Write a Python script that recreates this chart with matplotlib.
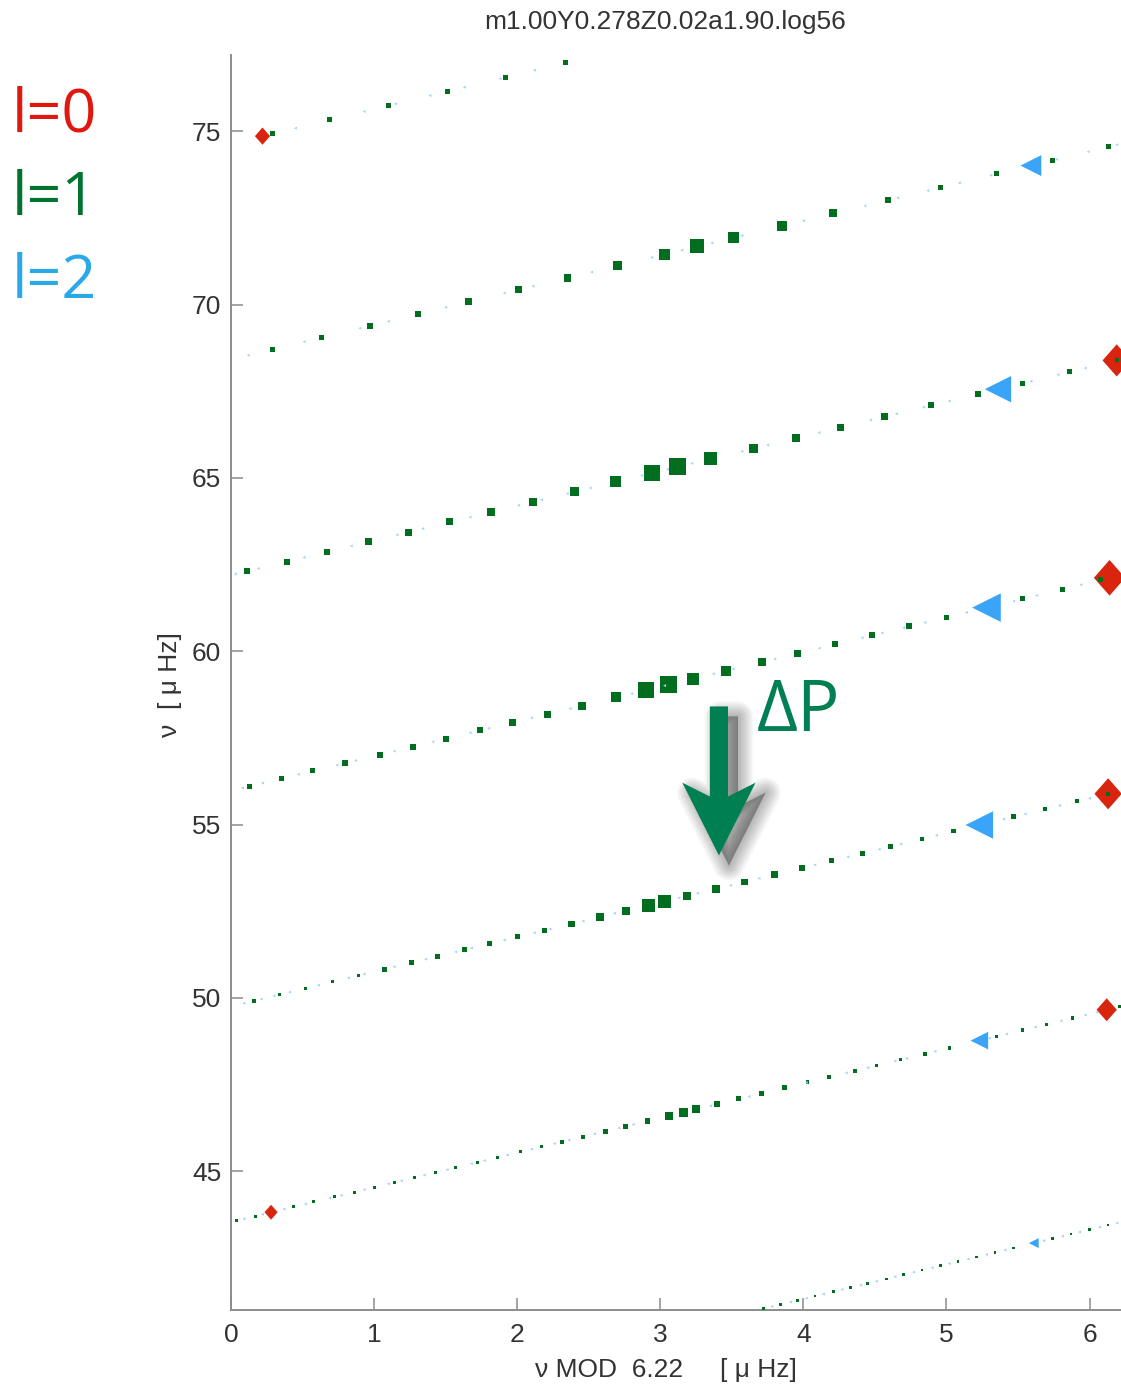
"""
Echelle diagram of a red-giant model: radial, dipole and quadrupole modes
folded with the large separation, showing the dipole mixed-mode ridges.
"""

import numpy as np
import matplotlib.pyplot as plt
from matplotlib.patches import FancyArrow
from matplotlib.transforms import ScaledTranslation

DNU = 6.22  # large separation used for folding [uHz]
MODEL = "m1.00Y0.278Z0.02a1.90.log56"

# ---------------------- MODE FREQUENCIES ----------------------
# radial modes (l=0), frequency [uHz] and relative visibility
l0_freq = [43.82, 49.66, 55.89, 62.12, 68.39, 74.86]
l0_vis = [1.3, 2.0, 2.7, 3.1, 2.8, 1.5]

# dipole mixed modes (l=1), one row per acoustic order
l1_freq = [
    41.04, 41.16, 41.28, 41.40, 41.53, 41.65, 41.77, 41.90, 42.02, 42.15,
    42.28, 42.40, 42.53, 42.66, 42.79, 43.06, 43.19, 43.32, 43.45,
    43.58, 43.71, 43.98, 44.12, 44.26, 44.40, 44.54, 44.68, 44.82, 44.97,
    45.11, 45.26, 45.40, 45.56, 45.71, 45.85, 46.00, 46.16, 46.30, 46.45,
    46.60, 46.70, 46.79, 46.94, 47.09, 47.25, 47.41, 47.57, 47.72, 47.90,
    48.05, 48.22, 48.39, 48.56, 48.89, 49.07, 49.24, 49.42, 49.75,
    49.92, 50.10, 50.28, 50.47, 50.65, 50.83, 51.02, 51.20, 51.39, 51.57,
    51.76, 51.95, 52.14, 52.34, 52.52, 52.68, 52.79, 52.95, 53.15, 53.35,
    53.56, 53.75, 53.96, 54.17, 54.37, 54.59, 54.81, 55.23, 55.45, 55.67,
    55.89,
    56.11, 56.33, 56.55, 56.78, 57.02, 57.25, 57.48, 57.72, 57.95, 58.19,
    58.43, 58.67, 58.88, 59.04, 59.21, 59.44, 59.69, 59.94, 60.20, 60.46,
    60.72, 60.98, 61.51, 61.79, 62.06,
    62.31, 62.59, 62.87, 63.16, 63.44, 63.73, 64.02, 64.31, 64.60, 64.89,
    65.14, 65.32, 65.55, 65.85, 66.15, 66.46, 66.77, 67.09, 67.42, 67.73,
    68.06, 68.39,
    68.71, 69.05, 69.39, 69.73, 70.08, 70.43, 70.77, 71.12, 71.45, 71.68,
    71.93, 72.27, 72.63, 73.01, 73.38, 73.77, 74.16, 74.55,
    74.93, 75.33, 75.74, 76.15, 76.56, 76.98,
]
l1_vis = [
    .25, .25, .25, .25, .25, .25, .25, .25, .25, .25,
    .25, .25, .25, .25, .25, .25, .25, .25, .25,
    .25, .3, .3, .3, .3, .3, .3, .3, .3, .3,
    .3, .3, .3, .3, .35, .4, .4, .5, .5, .55,
    .8, .9, .8, .6, .5, .5, .5, .35, .35, .35,
    .35, .35, .35, .35, .35, .35, .35, .35, .35,
    .35, .35, .35, .35, .35, .5, .5, .5, .5, .5,
    .5, .5, .65, .8, .8, 1.3, 1.3, .8, .8, .65,
    .65, .65, .5, .5, .5, .45, .45, .45, .4, .4,
    .4,
    .5, .5, .5, .6, .6, .6, .6, .6, .7, .7,
    .8, 1.0, 1.6, 1.7, 1.2, 1.0, .8, .7, .6, .6,
    .6, .5, .5, .5, .5,
    .6, .6, .6, .7, .7, .7, .8, .8, .9, 1.1,
    1.6, 1.7, 1.3, .9, .8, .7, .7, .6, .6, .5,
    .5, .4,
    .5, .5, .6, .6, .7, .7, .75, .9, 1.1, 1.4,
    1.1, 1.0, .8, .6, .5, .5, .5, .5,
    .5, .5, .5, .5, .5, .5,
]

# quadrupole modes (l=2): the strong p-like modes ...
l2_peak_freq = [42.93, 48.77, 54.99, 61.26, 67.56, 74.01]
l2_peak_vis = [0.9, 1.6, 2.5, 2.6, 2.4, 1.9]

# ... and the faint g-like quadrupole mixed modes
l2_freq = [
    41.10, 41.23, 41.34, 41.46, 41.59, 41.72, 41.83, 41.96, 42.09, 42.22,
    42.34, 42.47, 42.60, 42.73, 43.00, 43.13, 43.25, 43.39, 43.51,
    43.63, 43.76, 43.91, 44.06, 44.23, 44.31, 44.47, 44.64, 44.73, 44.89,
    45.05, 45.22, 45.31, 45.47, 45.64, 45.80, 45.90, 46.08, 46.25, 46.35,
    46.89, 47.16, 47.56, 47.84, 47.99, 48.18, 48.26, 48.46, 48.84, 48.96,
    49.16, 49.34, 49.51, 49.59,
    49.85, 49.97, 50.06, 50.17, 50.37, 50.58, 50.69, 50.90, 51.12, 51.33,
    51.44, 51.67, 51.88, 51.99, 52.22, 52.44, 52.89, 53.02, 53.25, 53.45,
    53.84, 54.07, 54.29, 54.44, 54.69, 55.16, 55.31, 55.55, 55.76,
    56.06, 56.20, 56.45, 56.72, 56.85, 57.12, 57.39, 57.65, 57.78, 58.08,
    58.35, 58.78, 59.01, 59.35, 59.49, 59.78, 60.09, 60.39, 60.53, 60.68,
    60.83, 61.12, 61.45, 61.61, 61.92,
    62.23, 62.39, 62.71, 63.04, 63.36, 63.54, 63.87, 64.21, 64.37, 64.55,
    64.71, 65.07, 65.25, 65.42, 65.77, 65.95, 66.31, 66.67, 66.85, 67.04,
    67.22, 67.79, 67.98, 68.17,
    68.54, 68.93, 69.32, 69.52, 69.92, 70.33, 70.53, 70.94, 71.36, 71.57,
    71.78, 71.99, 72.42, 72.85, 73.08, 73.29, 73.51, 73.73, 74.19, 74.41,
    74.61,
    75.09, 75.57, 75.79, 76.03, 76.27, 76.52, 76.76,
]

x_ticks = [0, 1, 2, 3, 4, 5, 6]
y_ticks = [45, 50, 55, 60, 65, 70, 75]

# ---------------------- FIGURE ----------------------
W, H = 1121, 1389
fig = plt.figure(figsize=(W / 100, H / 100), dpi=100)


def fpos(x, y):
    # pixel position -> figure fraction
    return x / W, 1 - y / H


ax = fig.add_axes([231 / W, 1 - 1310 / H, (W - 231) / W, (1310 - 55) / H])

PX = 7.2  # one visibility unit = 10 px = 7.2 pt


def sizes(vis, scale=1.0):
    return (np.asarray(vis) * PX * scale) ** 2


def fold(freq):
    freq = np.asarray(freq)
    return np.mod(freq, DNU), freq


# slightly tall diamond, like the original plotting symbol
diamond = [(0, 1), (0.88, 0), (0, -1), (-0.88, 0), (0, 1)]

x0, y0 = fold(l0_freq)
ax.scatter(x0, y0, s=sizes(l0_vis, 1.15), marker=diamond,
           color="#d9250e", linewidths=0, zorder=2)

x1, y1 = fold(l1_freq)
ax.scatter(x1, y1, s=sizes(l1_vis), marker="s",
           color="#006e1e", linewidths=0, zorder=3)

x2, y2 = fold(l2_freq)
ax.scatter(x2, y2, s=sizes([0.3] * len(l2_freq)), marker="<",
           color="#a4d0fa", linewidths=0, zorder=4)

x2p, y2p = fold(l2_peak_freq)
ax.scatter(x2p, y2p, s=sizes(l2_peak_vis, 1.1), marker="<",
           color="#3aa4f8", linewidths=0, zorder=4)

ax.set_xlim(0, DNU)
ax.set_ylim(41.0, 77.2)
ax.set_xticks(x_ticks)
ax.set_yticks(y_ticks)

for side in ("top", "right"):
    ax.spines[side].set_visible(False)
for side in ("left", "bottom"):
    ax.spines[side].set_color("#8c8c8c")
    ax.spines[side].set_linewidth(1.4)
ax.tick_params(direction="in", length=8.5, width=1.1, color="#8c8c8c",
               labelsize=19, labelcolor="#333333")
ax.tick_params(axis="y", pad=7)
ax.tick_params(axis="x", pad=9)
for lab in ax.get_xticklabels() + ax.get_yticklabels():
    lab.set_family("Liberation Sans")

# titles and axis labels
txt = dict(family="Liberation Sans", fontsize=19, color="#333333")
fig.text(*fpos(665, 22), MODEL, ha="center", va="center", **txt)
fig.text(*fpos(666, 1370), "ν MOD  6.22     [ μ Hz]", ha="center", va="center", **txt)
fig.text(*fpos(170, 685), "ν  [ μ Hz]", ha="center", va="center", rotation=90, **txt)

# degree key on the left
key = dict(family=["Open Sans", "DejaVu Sans"], fontsize=44, ha="left", va="baseline")
fig.text(*fpos(12, 132), "l=0", color="#e0170f", **key)
fig.text(*fpos(12, 215), "l=1", color="#00742f", **key)
fig.text(*fpos(12, 298), "l=2", color="#2aa9e8", **key)

# period spacing arrow with a soft drop shadow (stacked translucent strokes)
arrow_kw = dict(width=0.127, head_width=0.512, head_length=2.1, overhang=0.19,
                length_includes_head=True, clip_on=False)
shadow_tr = ax.transData + ScaledTranslation(0.10, -0.10, fig.dpi_scale_trans)
for lw in range(22, -1, -2):
    a = 0.028
    ax.add_patch(FancyArrow(3.41, 58.41, 0, -4.30, transform=shadow_tr,
                            facecolor=(0, 0, 0, a), edgecolor=(0, 0, 0, a),
                            linewidth=lw, joinstyle="round", zorder=5, **arrow_kw))
ax.add_patch(FancyArrow(3.41, 58.41, 0, -4.30, color="#008052", linewidth=0,
                        zorder=6, **arrow_kw))
fig.text(*fpos(757, 731), "ΔP", color="#008052", fontsize=51,
         family=["Open Sans", "DejaVu Sans"], ha="left", va="baseline")

fig.savefig("out.png", dpi=100)
